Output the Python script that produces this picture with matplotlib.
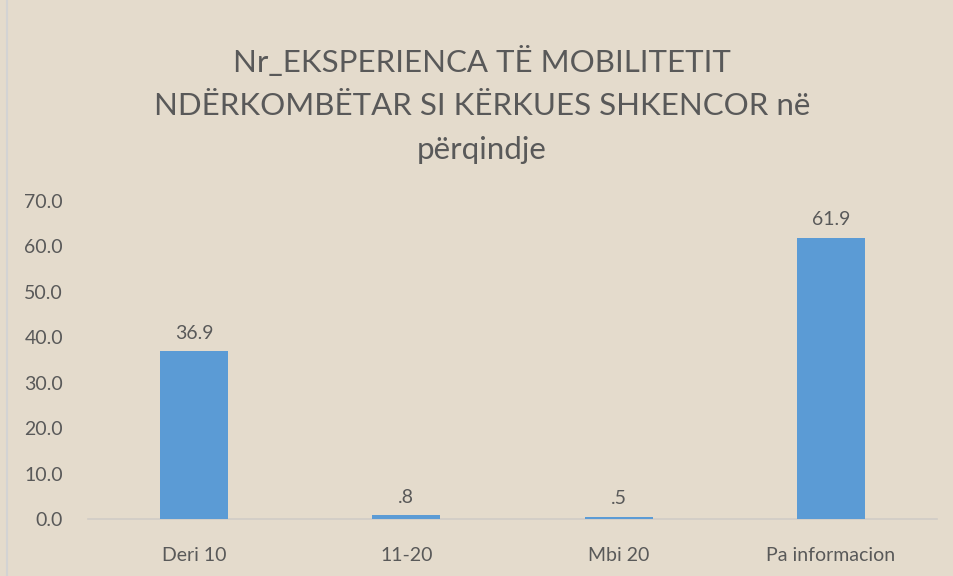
import matplotlib.pyplot as plt
from matplotlib.lines import Line2D

plt.rcParams['font.family'] = ['Lato', 'DejaVu Sans']

categories = ['Deri 10', '11-20', 'Mbi 20', 'Pa informacion']
values = [36.9, 0.8, 0.5, 61.9]
value_labels = ['36.9', '.8', '.5', '61.9']
yticks = [0, 10, 20, 30, 40, 50, 60, 70]

bg = '#E4DBCC'
text_c = '#595959'

fig = plt.figure(figsize=(9.54, 5.76), dpi=100, facecolor=bg)
ax = fig.add_axes([0.0922, 0.099, 0.890, 0.552])
ax.set_facecolor(bg)

x = range(len(categories))
ax.bar(x, values, width=0.32, color='#5B9BD5', zorder=3)
for xi, v, lab in zip(x, values, value_labels):
    ax.annotate(lab, (xi, v), xytext=(0, 7), textcoords='offset points',
                ha='center', va='bottom', fontsize=14, color=text_c)

ax.set_xlim(-0.5, len(categories) - 0.5)
ax.set_ylim(0, 70)
ax.set_yticks(yticks)
ax.set_yticklabels([f'{t:.1f}' for t in yticks], fontsize=14, color=text_c)
ax.set_xticks(list(x))
ax.set_xticklabels(categories, fontsize=14, color=text_c)
ax.tick_params(length=0, axis='y', pad=18)
ax.tick_params(length=0, axis='x', pad=20)

for s in ['top', 'right', 'left']:
    ax.spines[s].set_visible(False)
ax.spines['bottom'].set_color('#D0CCC6')
ax.spines['bottom'].set_linewidth(1.2)

# outer chart border on the left
fig.add_artist(Line2D([7 / 954, 7 / 954], [0, 1], transform=fig.transFigure,
                      color='#D3D3D3', lw=1.5))

fig.text(0.505, 0.818,
         'Nr_EKSPERIENCA TË MOBILITETIT\nNDËRKOMBËTAR SI KËRKUES SHKENCOR në\npërqindje',
         ha='center', va='center', fontsize=22.5, color=text_c, linespacing=1.68)

fig.savefig('out.png', dpi=100, facecolor=bg)
